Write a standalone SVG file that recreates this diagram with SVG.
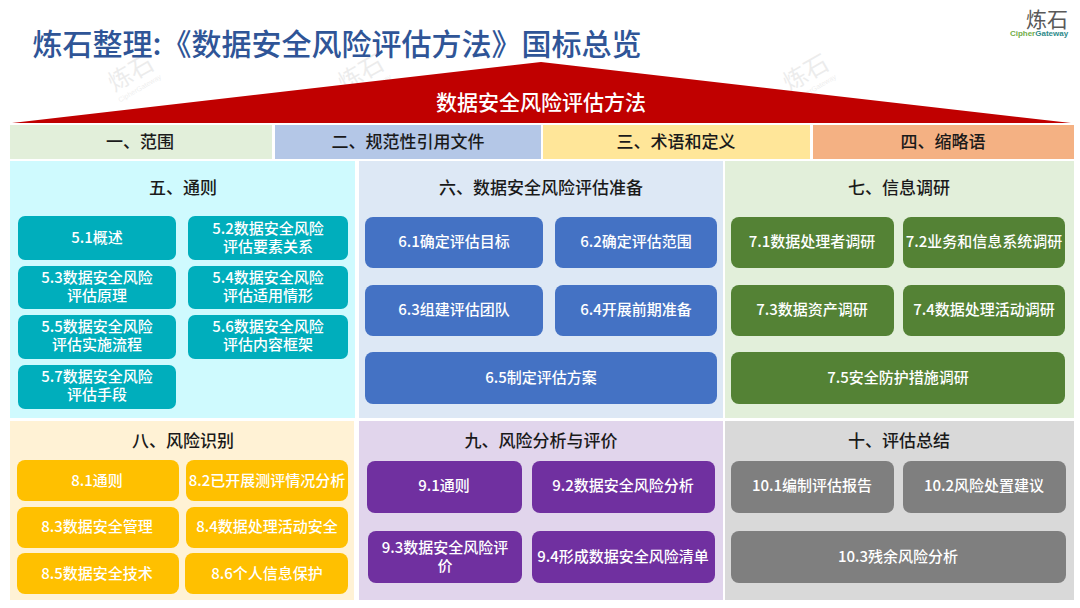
<svg xmlns="http://www.w3.org/2000/svg" width="1080" height="608" viewBox="0 0 1080 608">
<style>
text{font-family:"Noto Sans CJK SC","Noto Sans",sans-serif;text-anchor:middle}
.t{font-size:17px;font-weight:500;fill:#1a1a1a}
.b{font-size:15px;fill:#fff;font-weight:500}
.wm{font-size:24px;fill:#000;opacity:.07}
.wm2{font-size:7px;font-family:"Liberation Sans",sans-serif;fill:#000;opacity:.07}
.c5{fill:#00AEBC}.c6{fill:#4472C4}.c7{fill:#548235}.c8{fill:#FFC000}.c9{fill:#7030A0}.c10{fill:#7F7F7F}
</style>
<rect width="1080" height="608" fill="#fff"/>
<g id="watermarks">
<g transform="translate(135,80) rotate(-30)"><text class="wm">炼石</text><text class="wm2" y="12">CipherGateway</text></g>
<g transform="translate(365,80) rotate(-30)"><text class="wm">炼石</text><text class="wm2" y="12">CipherGateway</text></g>
<g transform="translate(810,80) rotate(-30)"><text class="wm">炼石</text><text class="wm2" y="12">CipherGateway</text></g>
</g>
<g id="title"><text x="337" y="55" font-size="30" font-weight="500" fill="#2F5597">炼石整理:《数据安全风险评估方法》国标总览</text></g>
<g id="logo">
<text x="1047" y="27" font-size="21" fill="#595959">炼石</text>
<text x="1039" y="36" font-size="8" font-weight="700" style="font-family:'Liberation Sans',sans-serif"><tspan fill="#70AD47">Cipher</tspan><tspan fill="#2E8B8B">Gateway</tspan></text>
</g>
<g id="roof"><polygon points="12,123 541,62 1071,123" fill="#C00000"/><text x="541" y="110" font-size="21" font-weight="500" fill="#fff">数据安全风险评估方法</text></g>
<g id="s1"><rect x="10" y="125" width="262" height="34" fill="#E2EFDA"/><text class="t" x="140" y="148">一、范围</text></g>
<g id="s2"><rect x="275" y="125" width="266" height="34" fill="#B4C7E7"/><text class="t" x="408" y="148">二、规范性引用文件</text></g>
<g id="s3"><rect x="543" y="125" width="267" height="34" fill="#FFE699"/><text class="t" x="676" y="148">三、术语和定义</text></g>
<g id="s4"><rect x="813" y="125" width="261" height="34" fill="#F4B183"/><text class="t" x="943" y="148">四、缩略语</text></g>
<g id="s5"><rect x="10" y="161" width="345" height="257" fill="#CFFAFE"/><text class="t" x="183" y="194">五、通则</text>
<g class="c5"><rect x="18" y="216" width="158" height="44" rx="7"/><rect x="188" y="216" width="160" height="44" rx="7"/><rect x="18" y="266" width="158" height="43" rx="7"/><rect x="188" y="266" width="160" height="43" rx="7"/><rect x="18" y="315" width="158" height="44" rx="7"/><rect x="188" y="315" width="160" height="44" rx="7"/><rect x="18" y="365" width="158" height="44" rx="7"/></g>
<text class="b" x="97" y="243">5.1概述</text>
<text class="b" x="268" y="234">5.2数据安全风险</text><text class="b" x="268" y="252">评估要素关系</text>
<text class="b" x="97" y="283">5.3数据安全风险</text><text class="b" x="97" y="301">评估原理</text>
<text class="b" x="268" y="283">5.4数据安全风险</text><text class="b" x="268" y="301">评估适用情形</text>
<text class="b" x="97" y="332">5.5数据安全风险</text><text class="b" x="97" y="350">评估实施流程</text>
<text class="b" x="268" y="332">5.6数据安全风险</text><text class="b" x="268" y="350">评估内容框架</text>
<text class="b" x="97" y="382">5.7数据安全风险</text><text class="b" x="97" y="400">评估手段</text></g>
<g id="s6"><rect x="359" y="161" width="364" height="257" fill="#DDE8F5"/><text class="t" x="541" y="194">六、数据安全风险评估准备</text>
<g class="c6"><rect x="365" y="217" width="178" height="51" rx="8"/><rect x="555" y="217" width="162" height="51" rx="8"/><rect x="365" y="285" width="178" height="51" rx="8"/><rect x="555" y="285" width="162" height="51" rx="8"/><rect x="365" y="352" width="352" height="52" rx="8"/></g>
<text class="b" x="454" y="247">6.1确定评估目标</text><text class="b" x="636" y="247">6.2确定评估范围</text><text class="b" x="454" y="315">6.3组建评估团队</text><text class="b" x="636" y="315">6.4开展前期准备</text><text class="b" x="541" y="383">6.5制定评估方案</text></g>
<g id="s7"><rect x="725" y="161" width="349" height="257" fill="#E2EFDA"/><text class="t" x="899" y="194">七、信息调研</text>
<g class="c7"><rect x="731" y="217" width="163" height="51" rx="8"/><rect x="903" y="217" width="162" height="51" rx="8"/><rect x="731" y="285" width="163" height="51" rx="8"/><rect x="903" y="285" width="162" height="51" rx="8"/><rect x="731" y="352" width="334" height="52" rx="8"/></g>
<text class="b" x="812" y="247">7.1数据处理者调研</text><text class="b" x="984" y="247">7.2业务和信息系统调研</text><text class="b" x="812" y="315">7.3数据资产调研</text><text class="b" x="984" y="315">7.4数据处理活动调研</text><text class="b" x="898" y="383">7.5安全防护措施调研</text></g>
<g id="s8"><rect x="10" y="421" width="344" height="179" fill="#FFF2D5"/><text class="t" x="183" y="447">八、风险识别</text>
<g class="c8"><rect x="17" y="460" width="162" height="41" rx="8"/><rect x="186" y="460" width="162" height="41" rx="8"/><rect x="17" y="507" width="162" height="41" rx="8"/><rect x="186" y="507" width="162" height="41" rx="8"/><rect x="17" y="553" width="162" height="41" rx="8"/><rect x="185" y="553" width="163" height="41" rx="8"/></g>
<text class="b" x="97" y="486">8.1通则</text><text class="b" x="267" y="486">8.2已开展测评情况分析</text><text class="b" x="97" y="532">8.3数据安全管理</text><text class="b" x="267" y="532">8.4数据处理活动安全</text><text class="b" x="97" y="579">8.5数据安全技术</text><text class="b" x="267" y="579">8.6个人信息保护</text></g>
<g id="s9"><rect x="359" y="421" width="364" height="179" fill="#E1D5EC"/><text class="t" x="541" y="447">九、风险分析与评价</text>
<g class="c9"><rect x="367" y="461" width="155" height="52" rx="8"/><rect x="532" y="461" width="183" height="52" rx="8"/><rect x="368" y="531" width="154" height="52" rx="8"/><rect x="532" y="531" width="183" height="52" rx="8"/></g>
<text class="b" x="444" y="491">9.1通则</text><text class="b" x="623" y="491">9.2数据安全风险分析</text><text class="b" x="445" y="553">9.3数据安全风险评</text><text class="b" x="445" y="571">价</text><text class="b" x="623" y="562">9.4形成数据安全风险清单</text></g>
<g id="s10"><rect x="725" y="421" width="349" height="179" fill="#D9D9D9"/><text class="t" x="899" y="447">十、评估总结</text>
<g class="c10"><rect x="731" y="461" width="163" height="52" rx="8"/><rect x="903" y="461" width="163" height="52" rx="8"/><rect x="731" y="531" width="335" height="52" rx="8"/></g>
<text class="b" x="812" y="491">10.1编制评估报告</text><text class="b" x="984" y="491">10.2风险处置建议</text><text class="b" x="898" y="562">10.3残余风险分析</text></g>
</svg>
